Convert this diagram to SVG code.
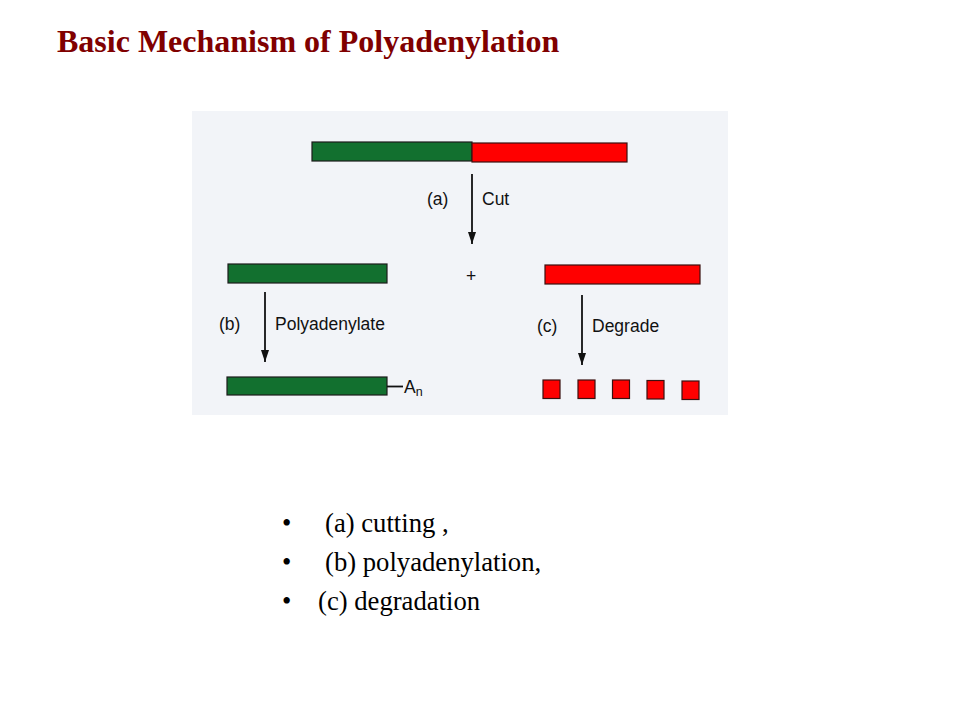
<svg xmlns="http://www.w3.org/2000/svg" width="960" height="720" viewBox="0 0 960 720">
<defs>
<marker id="ah" viewBox="0 0 10 10" refX="10" refY="5" markerWidth="12" markerHeight="8" markerUnits="userSpaceOnUse" orient="auto" preserveAspectRatio="none">
<path d="M0,0 L10,5 L0,10 Z" fill="#111"/>
</marker>
</defs>
<style>
.g{fill:#12702f;stroke:#1b1b1b;stroke-width:1.2}
.r{fill:#ff0000;stroke:#3a1010;stroke-width:1.2}
.lbl{font-family:"Liberation Sans",Arial,sans-serif;font-size:17.5px;fill:#111}
.conn{stroke:#111;stroke-width:1.8;fill:none}
.bul{font-family:"Liberation Serif","Times New Roman",serif;font-size:26.67px;fill:#000}
</style>
<rect width="960" height="720" fill="#ffffff"/>
<text id="title" x="57" y="52" font-family="Liberation Serif,'Times New Roman',serif" font-weight="bold" font-size="32" fill="#800000">Basic Mechanism of Polyadenylation</text>
<rect id="panel" x="192" y="111" width="536" height="304" fill="#f2f4f8"/>
<g id="full-rna">
<rect class="g" x="312" y="142" width="160" height="19"/>
<rect class="r" x="472" y="143" width="155" height="19"/>
</g>
<g id="upstream-fragment"><rect class="g" x="228" y="264" width="159" height="19"/></g>
<text id="plus" class="lbl" x="471" y="282" text-anchor="middle" font-size="14">+</text>
<g id="downstream-fragment"><rect class="r" x="545" y="265" width="155" height="19"/></g>
<g id="polyadenylated">
<rect class="g" x="227" y="377" width="160" height="18"/>
<line class="conn" x1="387" y1="386.5" x2="403" y2="386.5"/>
<text class="lbl" x="404" y="392.5" font-size="18">A<tspan font-size="12.5" dy="3.5">n</tspan></text>
</g>
<g id="fragments">
<rect class="r" x="543" y="380" width="17" height="18.5"/>
<rect class="r" x="578" y="380" width="17" height="18.5"/>
<rect class="r" x="612.5" y="380" width="17" height="18.5"/>
<rect class="r" x="647" y="380.5" width="17" height="18.5"/>
<rect class="r" x="682" y="381" width="17" height="18.5"/>
</g>
<g id="connectors">
<line class="conn" x1="472" y1="174" x2="472" y2="244" marker-end="url(#ah)"/>
<line class="conn" x1="265" y1="292" x2="265" y2="362" marker-end="url(#ah)"/>
<line class="conn" x1="582" y1="295" x2="582" y2="365" marker-end="url(#ah)"/>
<text class="lbl" x="427" y="205">(a)</text>
<text class="lbl" x="482" y="205">Cut</text>
<text class="lbl" x="219" y="330">(b)</text>
<text class="lbl" x="275" y="330">Polyadenylate</text>
<text class="lbl" x="537" y="332">(c)</text>
<text class="lbl" x="592" y="332">Degrade</text>
</g>
<g id="bullets">
<text class="bul" x="282" y="532">•</text>
<text class="bul" x="325" y="532">(a) cutting ,</text>
<text class="bul" x="282" y="571">•</text>
<text class="bul" x="325" y="571">(b) polyadenylation,</text>
<text class="bul" x="282" y="610">•</text>
<text class="bul" x="318" y="610">(c) degradation</text>
</g>
</svg>
